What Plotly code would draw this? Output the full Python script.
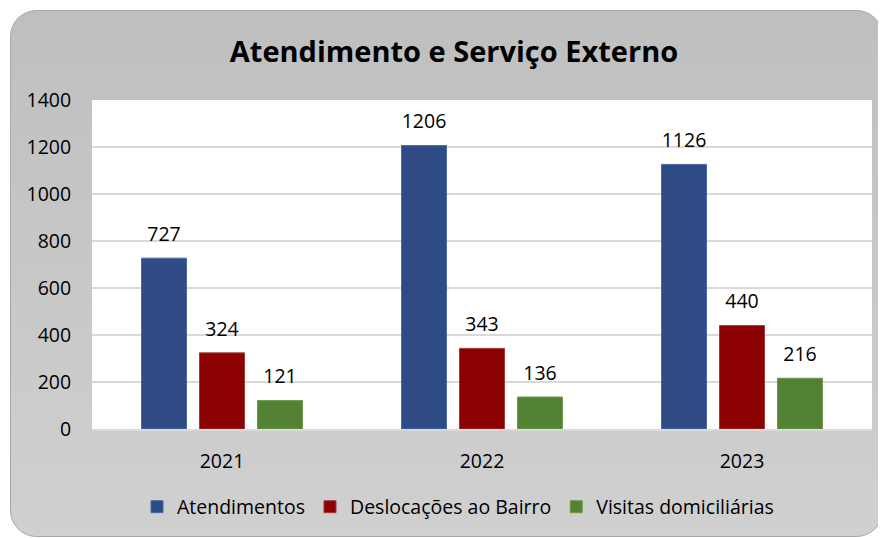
import plotly.graph_objects as go
import base64

years = ["2021", "2022", "2023"]
series_names = ["Atendimentos", "Deslocações ao Bairro", "Visitas domiciliárias"]
atendimentos = [727, 1206, 1126]
deslocacoes = [324, 343, 440]
visitas = [121, 136, 216]
y_ticks = [0, 200, 400, 600, 800, 1000, 1200, 1400]

values = [atendimentos, deslocacoes, visitas]
colors = ["#2E4B85", "#8B0000", "#548235"]
edge = ["#4A6AA8", "#A33A3A", "#6F9A50"]

# page has an 8px body margin; figure sized to fit the 886x538 window
OFF = 8
W, H = 886 - OFF, 538 - OFF
ML, MT = 92 - OFF, 100 - OFF
PR, PB = 872 - OFF, 429 - OFF
MR, MB = W - PR, H - PB
PW, PH = PR - ML, PB - MT
FONT = "Open Sans"
FS = 19.5

cx0, cy0, cx1, cy1 = 10 - OFF, 10 - OFF, 882 - OFF, 536 - OFF
svg = f'''<svg xmlns="http://www.w3.org/2000/svg" width="{W}" height="{H}" viewBox="0 0 {W} {H}">
<defs><linearGradient id="g" x1="0" y1="0" x2="0" y2="1">
<stop offset="0" stop-color="#bfbfbf"/><stop offset="1" stop-color="#d0d0d0"/></linearGradient></defs>
<rect x="{cx0 + 0.5}" y="{cy0 + 0.5}" width="{cx1 - cx0}" height="{cy1 - cy0}" rx="26" ry="26" fill="url(#g)" stroke="#a8a8a8" stroke-width="1"/>
</svg>'''
src = "data:image/svg+xml;base64," + base64.b64encode(svg.encode()).decode()

fig = go.Figure()
for name, vals, c, e in zip(series_names, values, colors, edge):
    fig.add_trace(go.Bar(
        x=years, y=vals, name=name, offsetgroup=name,
        marker=dict(color=c, line=dict(color=e, width=1)),
        hoverinfo="skip",
    ))
for name, vals in zip(series_names, values):
    fig.add_trace(go.Scatter(
        x=years, y=vals, mode="markers+text", text=[str(v) for v in vals],
        offsetgroup=name, textposition="top center",
        marker=dict(size=18, color="rgba(0,0,0,0)"),
        textfont=dict(family=FONT, size=FS, color="#000000"),
        showlegend=False, hoverinfo="skip", cliponaxis=False,
    ))

fig.update_layout(
    width=W, height=H,
    margin=dict(l=ML, r=MR, t=MT, b=MB),
    paper_bgcolor="#ffffff",
    plot_bgcolor="rgba(0,0,0,0)",
    barmode="group", scattermode="group",
    bargap=0.331, bargroupgap=0.224, scattergap=0.331,
    title=dict(text="<b>Atendimento e Serviço Externo</b>", x=(454 - OFF) / W, xanchor="center",
               y=1 - (52 - OFF) / H, yanchor="middle",
               font=dict(family=FONT, size=29, color="#000000")),
    font=dict(family=FONT, size=FS, color="#000000"),
    xaxis=dict(showgrid=False, ticks="outside", ticklen=14, tickcolor="rgba(0,0,0,0)",
               tickfont=dict(family=FONT, size=FS, color="#000000"),
               showline=True, linecolor="#d9d9d9", linewidth=2, fixedrange=True),
    yaxis=dict(range=[0, 1400], tickvals=y_ticks, ticks="outside", ticklen=16,
               tickcolor="rgba(0,0,0,0)", showgrid=True, gridcolor="#d9d9d9", gridwidth=1.5,
               zeroline=False, tickfont=dict(family=FONT, size=FS, color="#000000"),
               fixedrange=True),
    legend=dict(orientation="h", x=(458 - OFF - ML) / PW, xanchor="center",
                y=(429 - 507) / PH, yanchor="middle",
                font=dict(family=FONT, size=FS, color="#000000"),
                bgcolor="rgba(0,0,0,0)", itemwidth=30),
    images=[dict(source=src, xref="paper", yref="paper",
                 x=-ML / PW, y=1 + MT / PH, sizex=W / PW, sizey=H / PH,
                 xanchor="left", yanchor="top", sizing="stretch", layer="below")],
    shapes=[dict(type="rect", xref="paper", yref="paper", x0=0, x1=1, y0=0, y1=1,
                 fillcolor="#ffffff", line=dict(width=0), layer="below")],
)

fig.write_html("out.html")
